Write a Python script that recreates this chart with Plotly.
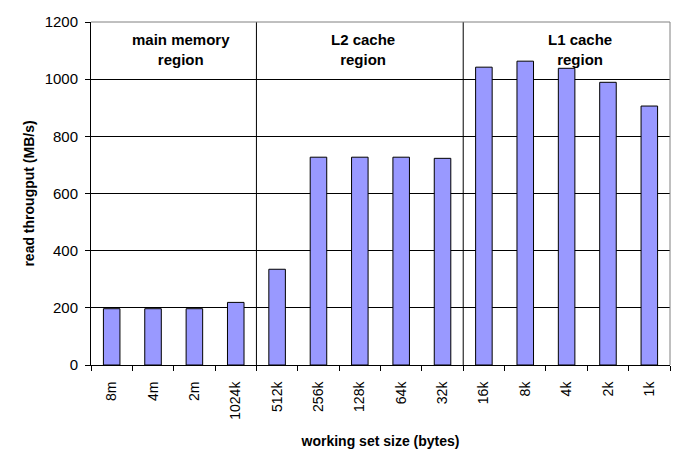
import plotly.graph_objects as go

categories = ["8m", "4m", "2m", "1024k", "512k", "256k", "128k", "64k", "32k",
              "16k", "8k", "4k", "2k", "1k"]
throughput = [197, 197, 197, 219, 335, 727, 727, 727, 723, 1042, 1063, 1038, 989, 906]

region_labels = ["main memory<br>region", "L2 cache<br>region", "L1 cache<br>region"]
region_label_x = [1.68, 6.08, 11.33]
region_bounds = [3.5, 8.5]

FONT = "Liberation Sans, Arial, sans-serif"

fig = go.Figure()
fig.add_trace(go.Bar(
    x=categories, y=throughput,
    marker=dict(color="#9999FF", line=dict(color="black", width=1)),
    width=0.4,
))

for xb in region_bounds:
    fig.add_shape(type="line", xref="x", yref="paper", x0=xb, x1=xb, y0=0, y1=1,
                  line=dict(color="black", width=1))

for txt, xc in zip(region_labels, region_label_x):
    fig.add_annotation(x=xc, y=1104, xref="x", yref="y", text="<b>" + txt + "</b>",
                       showarrow=False, font=dict(family=FONT, size=15, color="black"),
                       align="center")

# page body has an 8px margin, so the figure is drawn 8px in from the top-left
fig.update_layout(
    width=676, height=460,
    margin=dict(l=83, r=14, t=14, b=103),
    paper_bgcolor="white", plot_bgcolor="white",
    showlegend=False,
    font=dict(family=FONT, size=14, color="black"),
    xaxis=dict(
        type="category", range=[-0.5, 13.5], automargin=False,
        tickson="boundaries", ticks="outside", ticklen=5, tickcolor="black",
        tickangle=-90, showgrid=False, ticklabelstandoff=10,
        showline=True, linecolor="black", linewidth=1, mirror=False,
        title=dict(text="<b>working set size (bytes)</b>", font=dict(size=14), standoff=17),
        tickfont=dict(size=14),
    ),
    yaxis=dict(
        range=[0, 1200], dtick=200, tickmode="linear", automargin=False,
        ticks="outside", ticklen=5, tickcolor="black", ticklabelstandoff=4,
        showgrid=True, gridcolor="black", gridwidth=1,
        showline=True, linecolor="black", linewidth=1,
        zeroline=False,
        title=dict(text="<b>read througput (MB/s)</b>", font=dict(size=14), standoff=6),
        tickfont=dict(size=15),
    ),
)

# gray top/right border of plot area
fig.add_shape(type="line", xref="paper", yref="paper", x0=0, x1=1, y0=1, y1=1,
              line=dict(color="#808080", width=1))
fig.add_shape(type="line", xref="paper", yref="paper", x0=1, x1=1, y0=0, y1=1,
              line=dict(color="#808080", width=1))

fig.write_html("out.html")
